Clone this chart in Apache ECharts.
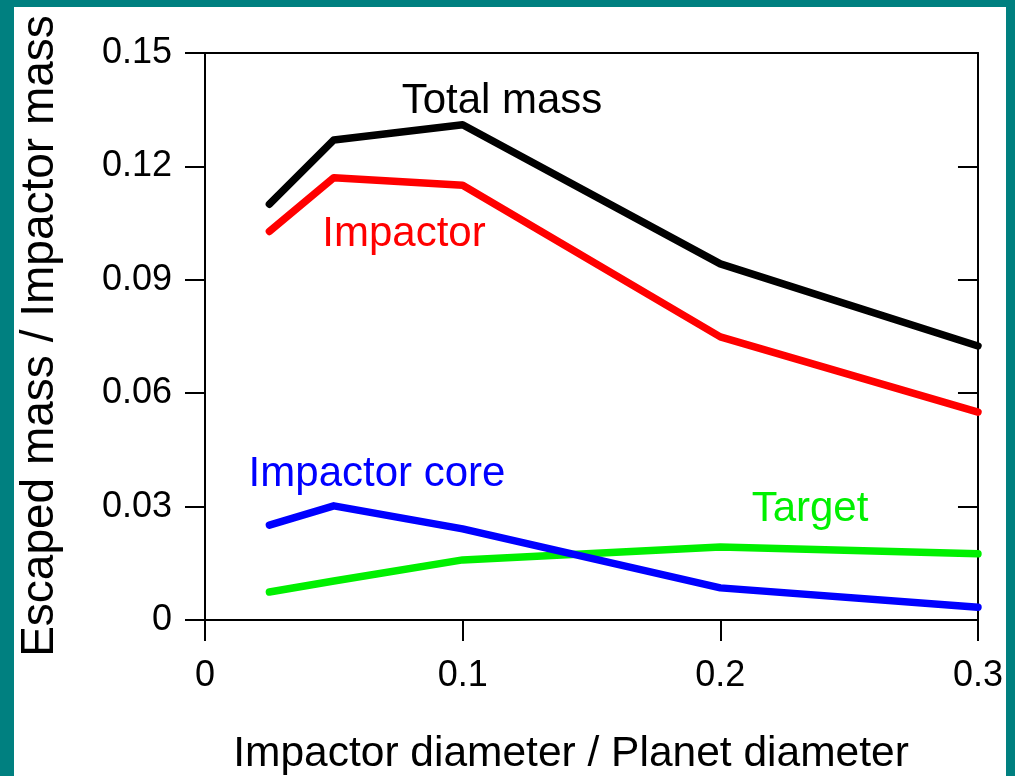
<!DOCTYPE html>
<html>
<head>
<meta charset="utf-8">
<script src="https://cdn.jsdelivr.net/npm/echarts@6/dist/echarts.min.js"></script>
<style>
  html, body { margin: 0; padding: 0; width: 1015px; height: 776px; background: #008080; overflow: hidden; }
  #chart { position: absolute; left: 14px; top: 7px; width: 992px; height: 769px; background: #ffffff; }
</style>
</head>
<body>
<div id="chart"></div>
<script>
// Data
const xValues = [0.025, 0.05, 0.1, 0.2, 0.3];
const totalMass = [0.110, 0.127, 0.131, 0.0942, 0.0725];
const impactor = [0.1028, 0.117, 0.115, 0.0749, 0.0550];
const impactorCore = [0.0251, 0.0302, 0.0241, 0.0085, 0.0034];
const target = [0.0074, 0.0103, 0.0159, 0.0193, 0.0175];

const seriesNames = ['Total mass', 'Impactor', 'Impactor core', 'Target'];
const xAxisTitle = 'Impactor diameter / Planet diameter';
const yAxisTitle = 'Escaped mass / Impactor mass';

const FONT = '"Liberation Sans", Arial, sans-serif';
const chart = echarts.init(document.getElementById('chart'), null, { renderer: 'canvas' });

function pairs(ys) { return xValues.map((x, i) => [x, ys[i]]); }
function lineSeries(name, ys, color) {
  return {
    name: name, type: 'line', xAxisIndex: 0, yAxisIndex: 0,
    data: pairs(ys), showSymbol: false, symbol: 'none', animation: false,
    lineStyle: { color: color, width: 7.5, cap: 'round', join: 'round' }
  };
}
function label(text, color, x, y, size, sx, rot) {
  return {
    type: 'text', x: x, y: y, rotation: rot || 0, scaleX: sx, scaleY: 1,
    style: { text: text, fill: color, font: size + 'px ' + FONT, align: 'center', verticalAlign: 'middle' }
  };
}

const axisLine = { show: true, onZero: false, lineStyle: { color: '#000', width: 2 } };

chart.setOption({
  backgroundColor: '#ffffff',
  animation: false,
  grid: { left: 191, top: 46, width: 775, height: 567, containLabel: false },
  xAxis: [
    {
      type: 'value', position: 'bottom', min: 0, max: 0.3, interval: 0.1,
      axisLine: axisLine,
      axisTick: { show: true, inside: false, length: 21, lineStyle: { color: '#000', width: 2 } },
      axisLabel: { show: true, margin: 38, color: '#000', fontSize: 36, fontFamily: FONT },
      splitLine: { show: false }
    },
    {
      type: 'value', position: 'top', min: 0, max: 0.3, interval: 0.1,
      axisLine: axisLine, axisTick: { show: false }, axisLabel: { show: false }, splitLine: { show: false }
    }
  ],
  yAxis: [
    {
      type: 'value', position: 'left', min: 0, max: 0.15, interval: 0.03,
      axisLine: axisLine,
      axisTick: { show: true, inside: false, length: 20, lineStyle: { color: '#000', width: 2 } },
      axisLabel: { show: true, margin: 33, color: '#000', fontSize: 36, fontFamily: FONT },
      splitLine: { show: false }
    },
    {
      type: 'value', position: 'right', min: 0, max: 0.15, interval: 0.03,
      axisLine: axisLine,
      axisTick: { show: true, inside: true, length: 20, lineStyle: { color: '#000', width: 2 } },
      axisLabel: { show: false }, splitLine: { show: false }
    }
  ],
  series: [
    lineSeries(seriesNames[3], target, '#00f000'),
    lineSeries(seriesNames[2], impactorCore, '#0000ff'),
    lineSeries(seriesNames[1], impactor, '#ff0000'),
    lineSeries(seriesNames[0], totalMass, '#000000')
  ],
  graphic: [
    label(seriesNames[0], '#000000', 488, 94, 42, 1),
    label(seriesNames[1], '#ff0000', 390, 227, 42, 1),
    label(seriesNames[2], '#0000ff', 363, 467, 42, 1),
    label(seriesNames[3], '#00f000', 796, 502, 42, 1),
    label(xAxisTitle, '#000000', 557, 747, 42.5, 1),
    label(yAxisTitle, '#000000', 26, 329, 46, 1, Math.PI / 2)
  ]
});
</script>
</body>
</html>
